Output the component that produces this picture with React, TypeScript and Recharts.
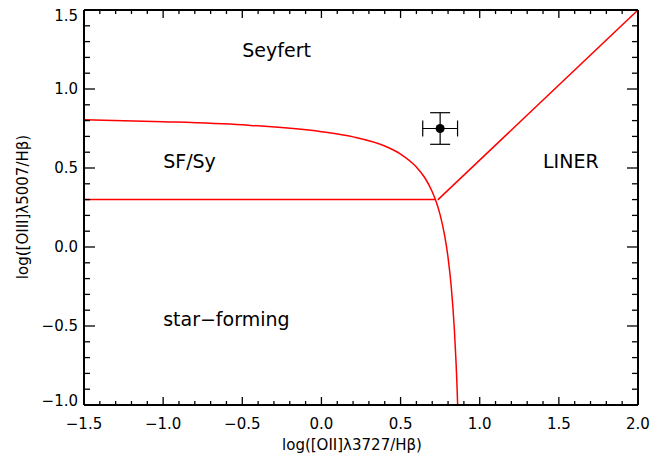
import React from 'react';
import { ComposedChart, XAxis, YAxis, Line, Scatter, ErrorBar } from 'recharts';

// Demarcation curve (Seyfert / star-forming)
const curvePoints = [
  { x: -1.5, y: 0.805 },
  { x: -1.0, y: 0.793 },
  { x: -0.5, y: 0.773 },
  { x: 0.0, y: 0.730 },
  { x: 0.2, y: 0.697 },
  { x: 0.4, y: 0.639 },
  { x: 0.5, y: 0.588 },
  { x: 0.6, y: 0.506 },
  { x: 0.65, y: 0.443 },
  { x: 0.7, y: 0.350 },
  { x: 0.72, y: 0.300 },
  { x: 0.75, y: 0.203 },
  { x: 0.78, y: 0.064 },
  { x: 0.8, y: -0.067 },
  { x: 0.82, y: -0.250 },
  { x: 0.84, y: -0.525 },
  { x: 0.85, y: -0.721 },
  { x: 0.86, y: -0.983 },
  { x: 0.8605, y: -1.0 },
];

// SF/Sy horizontal boundary
const sfSyLine = [
  { x: -1.5, y: 0.3 },
  { x: 0.72, y: 0.3 },
];

// LINER boundary
const linerLine = [
  { x: 0.735, y: 0.298 },
  { x: 2.0, y: 1.5 },
];

// Measured point with errors
const measurement = [{ x: 0.75, y: 0.75, ex: 0.11, ey: 0.1 }];

// Region labels (left-aligned at these data positions)
const regionLabels = [
  { x: -0.5, y: 1.2, name: 'Seyfert' },
  { x: -1.0, y: 0.5, name: 'SF/Sy' },
  { x: 1.4, y: 0.5, name: 'LINER' },
  { x: -1.0, y: -0.5, name: 'star\u2212forming' },
];

const xTicks = [
  -1.5, -1.4, -1.3, -1.2, -1.1, -1.0, -0.9, -0.8, -0.7, -0.6, -0.5, -0.4, -0.3, -0.2, -0.1,
  0.0, 0.1, 0.2, 0.3, 0.4, 0.5, 0.6, 0.7, 0.8, 0.9, 1.0, 1.1, 1.2, 1.3, 1.4, 1.5, 1.6, 1.7,
  1.8, 1.9, 2.0,
];
const yTicks = [
  -1.0, -0.9, -0.8, -0.7, -0.6, -0.5, -0.4, -0.3, -0.2, -0.1, 0.0, 0.1, 0.2, 0.3, 0.4, 0.5,
  0.6, 0.7, 0.8, 0.9, 1.0, 1.1, 1.2, 1.3, 1.4, 1.5,
];
const xTickLabels = ['\u22121.5', '\u22121.0', '\u22120.5', '0.0', '0.5', '1.0', '1.5', '2.0'];
const yTickLabels = ['\u22121.0', '\u22120.5', '0.0', '0.5', '1.0', '1.5'];
const xMajor = [-1.5, -1.0, -0.5, 0.0, 0.5, 1.0, 1.5, 2.0];
const yMajor = [-1.0, -0.5, 0.0, 0.5, 1.0, 1.5];

const FONT = 'DejaVu Sans';
const W = 667;
const H = 455;

const majorIndex = (list: number[], v: number) =>
  list.findIndex((m) => Math.abs(m - v) < 1e-6);

const BottomTick = (props: any) => {
  const { x, y, payload } = props;
  const i = majorIndex(xMajor, payload.value);
  const major = i >= 0;
  return (
    <g>
      <line x1={x} x2={x} y1={y} y2={y - (major ? 8 : 4)} stroke="#000" strokeWidth={1.3} />
      {major && (
        <text x={x} y={y + 24} textAnchor="middle" fontFamily={FONT} fontSize={15} fill="#000">
          {xTickLabels[i]}
        </text>
      )}
    </g>
  );
};

const TopTick = (props: any) => {
  const { x, y, payload } = props;
  const major = majorIndex(xMajor, payload.value) >= 0;
  return <line x1={x} x2={x} y1={y} y2={y + (major ? 8 : 4)} stroke="#000" strokeWidth={1.3} />;
};

const LeftTick = (props: any) => {
  const { x, y, payload } = props;
  const i = majorIndex(yMajor, payload.value);
  const major = i >= 0;
  const ty = Math.min(Math.max(y, 16), 401);
  return (
    <g>
      <line x1={x} x2={x + (major ? 11 : 6)} y1={y} y2={y} stroke="#000" strokeWidth={1.3} />
      {major && (
        <text
          x={x - 6}
          y={ty}
          dy="0.36em"
          textAnchor="end"
          fontFamily={FONT}
          fontSize={15}
          fill="#000"
        >
          {yTickLabels[i]}
        </text>
      )}
    </g>
  );
};

const RightTick = (props: any) => {
  const { x, y, payload } = props;
  const major = majorIndex(yMajor, payload.value) >= 0;
  return <line x1={x} x2={x - (major ? 11 : 6)} y1={y} y2={y} stroke="#000" strokeWidth={1.3} />;
};

const LabelShape = (props: any) => {
  const { cx, cy, payload } = props;
  return (
    <text x={cx} y={cy} textAnchor="start" fontFamily={FONT} fontSize={19} fill="#000">
      {payload.name}
    </text>
  );
};

export default function App() {
  return (
    <div style={{ position: 'absolute', left: 0, top: 0, width: W, height: H, background: '#fff' }}>
      <ComposedChart width={W} height={H} margin={{ top: 0, right: 0, bottom: 0, left: 0 }}>
        <XAxis
          xAxisId="bottom"
          dataKey="x"
          type="number"
          domain={[-1.5, 2.0]}
          allowDataOverflow
          ticks={xTicks}
          interval={0}
          height={50}
          tickSize={0}
          tickMargin={0}
          tickLine={false}
          tick={<BottomTick />}
          axisLine={{ stroke: '#000', strokeWidth: 2 }}
        />
        <XAxis
          xAxisId="top"
          orientation="top"
          dataKey="x"
          type="number"
          domain={[-1.5, 2.0]}
          allowDataOverflow
          ticks={xTicks}
          interval={0}
          height={10}
          tickSize={0}
          tickMargin={0}
          tickLine={false}
          tick={<TopTick />}
          axisLine={{ stroke: '#000', strokeWidth: 2 }}
        />
        <YAxis
          yAxisId="left"
          type="number"
          domain={[-1.0, 1.5]}
          allowDataOverflow
          ticks={yTicks}
          interval={0}
          width={84}
          tickSize={0}
          tickMargin={0}
          tickLine={false}
          tick={<LeftTick />}
          axisLine={{ stroke: '#000', strokeWidth: 2 }}
        />
        <YAxis
          yAxisId="right"
          orientation="right"
          type="number"
          domain={[-1.0, 1.5]}
          allowDataOverflow
          ticks={yTicks}
          interval={0}
          width={29}
          tickSize={0}
          tickMargin={0}
          tickLine={false}
          tick={<RightTick />}
          axisLine={{ stroke: '#000', strokeWidth: 2 }}
        />
        <Line
          xAxisId="bottom"
          yAxisId="left"
          data={curvePoints}
          dataKey="y"
          type="monotone"
          stroke="#ff0000"
          strokeWidth={1.5}
          dot={false}
          isAnimationActive={false}
        />
        <Line
          xAxisId="bottom"
          yAxisId="left"
          data={sfSyLine}
          dataKey="y"
          type="linear"
          stroke="#ff0000"
          strokeWidth={1.5}
          dot={false}
          isAnimationActive={false}
        />
        <Line
          xAxisId="bottom"
          yAxisId="left"
          data={linerLine}
          dataKey="y"
          type="linear"
          stroke="#ff0000"
          strokeWidth={1.5}
          dot={false}
          isAnimationActive={false}
        />
        <Scatter
          xAxisId="bottom"
          yAxisId="left"
          data={regionLabels}
          dataKey="y"
          shape={<LabelShape />}
          isAnimationActive={false}
        />
        <Scatter
          xAxisId="bottom"
          yAxisId="left"
          data={measurement}
          dataKey="y"
          fill="#000"
          isAnimationActive={false}
        >
          <ErrorBar dataKey="ex" direction="x" width={8} stroke="#000" strokeWidth={1.2} />
          <ErrorBar dataKey="ey" direction="y" width={10} stroke="#000" strokeWidth={1.2} />
        </Scatter>
        <text x={352} y={450} textAnchor="middle" fontFamily={FONT} fontSize={15} fill="#000">
          log([OII]λ3727/Hβ)
        </text>
        <text
          x={28}
          y={207}
          textAnchor="middle"
          transform="rotate(-90 28 207)"
          fontFamily={FONT}
          fontSize={15}
          fill="#000"
        >
          log([OIII]λ5007/Hβ)
        </text>
      </ComposedChart>
    </div>
  );
}
